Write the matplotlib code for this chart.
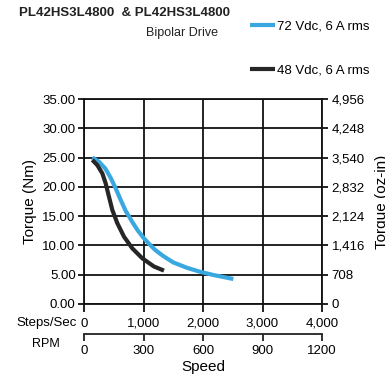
import matplotlib
matplotlib.use("Agg")
import matplotlib.pyplot as plt
from matplotlib.ticker import FixedLocator, FuncFormatter

# Speed (steps/sec) vs torque (Nm)
speed_72 = [140, 250, 360, 450, 530, 615, 700, 800, 900, 1000, 1100, 1200,
            1330, 1500, 1725, 1950, 2175, 2510]
torque_72 = [25.0, 24.3, 23.1, 21.5, 19.8, 17.8, 15.9, 14.2, 12.6, 11.3, 10.2, 9.2,
             8.2, 7.1, 6.2, 5.5, 4.95, 4.27]
speed_48 = [140, 224, 308, 364, 420, 476, 560, 672, 812, 980, 1176, 1344]
torque_48 = [24.6, 23.7, 22.3, 20.6, 18.3, 16.05, 13.8, 11.5, 9.5, 7.8, 6.4, 5.7]

nm_ticks = [0, 5, 10, 15, 20, 25, 30, 35]
ozin_labels = ["0", "708", "1,416", "2,124", "2,832", "3,540", "4,248", "4,956"]
steps_ticks = [0, 1000, 2000, 3000, 4000]
rpm_ticks = [0, 300, 600, 900, 1200]

plt.rcParams['font.family'] = ['Liberation Sans', 'DejaVu Sans']
fs = 9.5
blue = '#3aa8e0'
dark = '#262626'
ink = '#111111'

W, H = 385, 381
fig = plt.figure(figsize=(W / 100, H / 100), dpi=100)
ax = fig.add_axes([84 / W, 77 / H, 238 / W, 205 / H])

ax.plot(speed_72, torque_72, color=blue, lw=3.0, solid_capstyle='butt', solid_joinstyle='round',
        label='72 Vdc, 6 A rms', zorder=3)
ax.plot(speed_48, torque_48, color=dark, lw=3.0, solid_capstyle='butt', solid_joinstyle='round',
        label='48 Vdc, 6 A rms', zorder=3)

ax.set_xlim(0, 4000)
ax.set_ylim(0, 35)
ax.set_xticks(steps_ticks)
ax.set_xticklabels([f"{v:,}" for v in steps_ticks])
ax.set_yticks(nm_ticks)
ax.yaxis.set_major_formatter(FuncFormatter(lambda v, p: f"{v:.2f}"))
ax.grid(True, color=ink, lw=1.3)
for s in ax.spines.values():
    s.set_color(ink)
    s.set_linewidth(1.3)
ax.tick_params(axis='x', direction='out', length=6, width=1.3, pad=4, labelsize=fs, color=ink)
ax.tick_params(axis='y', direction='out', length=4, width=1.3, pad=2, labelsize=fs, color=ink)
ax.set_ylabel('Torque (Nm)', fontsize=11, labelpad=4)

ax2 = ax.twinx()
ax2.set_ylim(0, 35)
ax2.set_yticks(nm_ticks)
ax2.set_yticklabels(ozin_labels)
ax2.tick_params(axis='y', direction='out', length=4, width=1.3, pad=3, labelsize=fs, color=ink)
for s in ax2.spines.values():
    s.set_visible(False)
ax2.set_ylabel('Torque (oz-in)', fontsize=11, labelpad=7)

sec = ax.secondary_xaxis(-0.146, functions=(lambda x: x * 0.3, lambda r: r / 0.3))
sec.xaxis.set_major_locator(FixedLocator(rpm_ticks))
sec.xaxis.set_major_formatter(FuncFormatter(lambda v, p: f"{v:.0f}"))
sec.spines['bottom'].set_color('#222222')
sec.spines['bottom'].set_linewidth(1.3)
sec.tick_params(axis='x', direction='out', length=5, width=1.3, pad=3, labelsize=fs, color='#222222')
sec.set_xlabel('Speed', fontsize=11, labelpad=2)

ax.text(-0.03, -0.093, 'Steps/Sec', transform=ax.transAxes, ha='right', va='center', fontsize=fs)
ax.text(-0.16, -0.195, 'RPM', transform=ax.transAxes, ha='center', va='center', fontsize=9)

fig.text(19 / W, 1 - 13 / H, 'PL42HS3L4800  & PL42HS3L4800', ha='left', va='center',
         fontsize=9.5, fontweight='bold', color='#222222')
fig.text(182 / W, 1 - 33 / H, 'Bipolar Drive', ha='center', va='center', fontsize=9, color='#222222')

fig.legend(loc='upper left', bbox_to_anchor=(245 / W, 1 - 15 / H), frameon=False,
           handlelength=1.9, handletextpad=0.1, labelspacing=2.4, fontsize=fs, borderaxespad=0)

fig.savefig('out.png', dpi=100)
